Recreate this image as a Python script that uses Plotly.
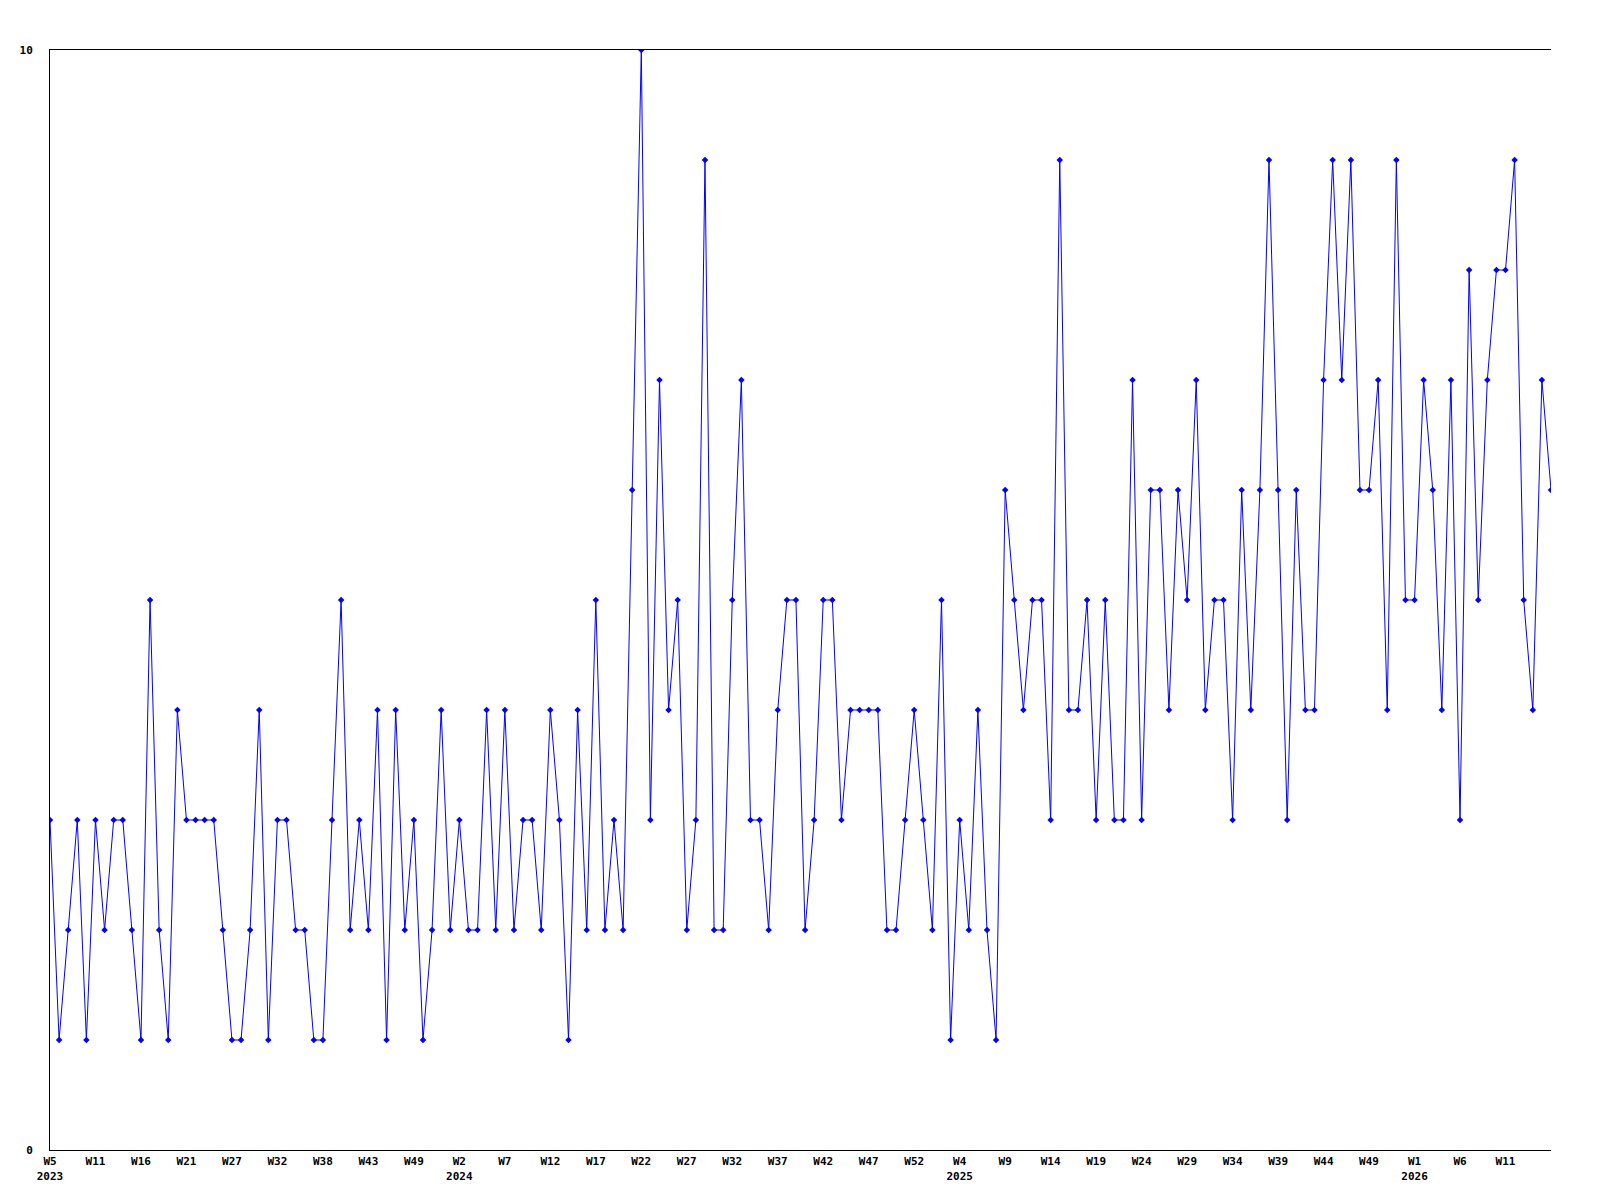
import plotly.graph_objects as go

# Weekly values (one point per week)
values = [
    3, 1, 2, 3, 1, 3, 2, 3, 3, 2,
    1, 5, 2, 1, 4, 3, 3, 3, 3, 2,
    1, 1, 2, 4, 1, 3, 3, 2, 2, 1,
    1, 3, 5, 2, 3, 2, 4, 1, 4, 2,
    3, 1, 2, 4, 2, 3, 2, 2, 4, 2,
    4, 2, 3, 3, 2, 4, 3, 1, 4, 2,
    5, 2, 3, 2, 6, 10, 3, 7, 4, 5,
    2, 3, 9, 2, 2, 5, 7, 3, 3, 2,
    4, 5, 5, 2, 3, 5, 5, 3, 4, 4,
    4, 4, 2, 2, 3, 4, 3, 2, 5, 1,
    3, 2, 4, 2, 1, 6, 5, 4, 5, 5,
    3, 9, 4, 4, 5, 3, 5, 3, 3, 7,
    3, 6, 6, 4, 6, 5, 7, 4, 5, 5,
    3, 6, 4, 6, 9, 6, 3, 6, 4, 4,
    7, 9, 7, 9, 6, 6, 7, 4, 9, 5,
    5, 7, 6, 4, 7, 3, 8, 5, 7, 8,
    8, 9, 5, 4, 7, 6,
]

# Tick labels, one every 5 weeks
tick_labels = [
    "W5<br>2023", "W11", "W16", "W21", "W27", "W32", "W38", "W43", "W49",
    "W2<br>2024", "W7", "W12", "W17", "W22", "W27", "W32", "W37", "W42", "W47", "W52",
    "W4<br>2025", "W9", "W14", "W19", "W24", "W29", "W34", "W39", "W44", "W49",
    "W1<br>2026", "W6", "W11",
]
tick_step = 5

y_ticks = [0, 10]

x = list(range(len(values)))
tick_positions = [i * tick_step for i in range(len(tick_labels))]

font = dict(family="DejaVu Sans Mono", size=11, color="black")
tick_font = dict(family="DejaVu Sans Mono", size=11, color="black", weight="bold")

fig = go.Figure()
fig.add_trace(go.Scatter(
    x=x, y=values, mode="lines+markers",
    line=dict(color="#0000ff", width=1),
    marker=dict(symbol="diamond", size=5, color="#0000ff"),
    hoverinfo="skip",
))

fig.update_layout(
    width=1592, height=1192,
    margin=dict(l=42, r=49, t=42, b=50),
    paper_bgcolor="white", plot_bgcolor="white",
    showlegend=False,
    font=font,
    xaxis=dict(
        range=[0, len(values) - 1],
        tickmode="array", tickvals=tick_positions, ticktext=tick_labels,
        showgrid=False, zeroline=False,
        showline=True, linecolor="black", linewidth=1, mirror=True,
        ticks="outside", ticklen=1, tickcolor="rgba(0,0,0,0)",
        tickfont=tick_font,
        fixedrange=True,
    ),
    yaxis=dict(
        range=[0, 10],
        tickmode="array", tickvals=y_ticks, ticktext=[str(v) for v in y_ticks],
        showgrid=False, zeroline=False,
        showline=True, linecolor="black", linewidth=1, mirror=False,
        ticks="outside", ticklen=14, tickcolor="rgba(0,0,0,0)",
        tickfont=tick_font,
        fixedrange=True,
    ),
)

fig.write_html("out.html")
